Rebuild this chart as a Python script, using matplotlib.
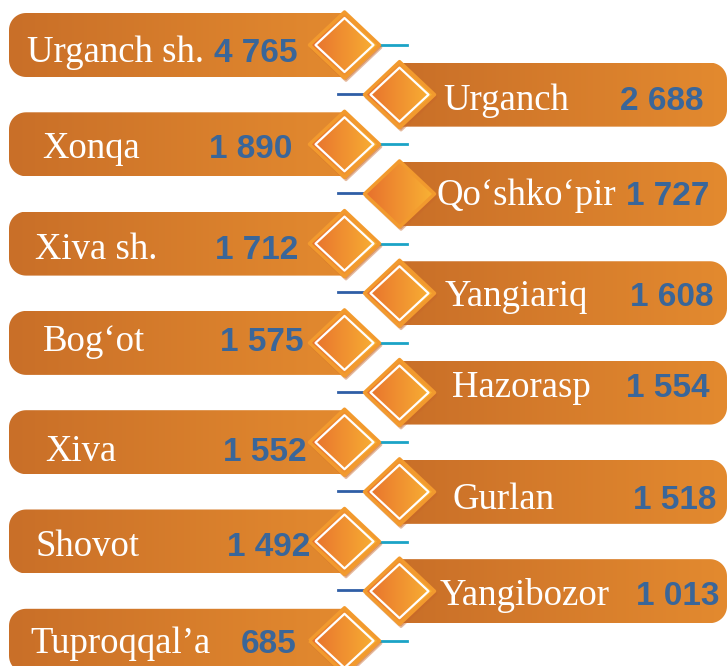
import numpy as np
import matplotlib.pyplot as plt
from matplotlib.colors import LinearSegmentedColormap
from matplotlib.patches import Polygon

# district names (top to bottom, alternating left / right)
districts = ["Urganch sh.", "Urganch", "Xonqa", "Qo‘shko‘pir", "Xiva sh.",
             "Yangiariq", "Bog‘ot", "Hazorasp", "Xiva", "Gurlan", "Shovot",
             "Yangibozor", "Tuproqqal’a"]
values = [4765, 2688, 1890, 1727, 1712, 1608, 1575, 1554, 1552, 1518, 1492,
          1013, 685]

# layout tweaks per row (pixels)
label_x = [27, 443, 42, 436, 35, 445, 43, 452, 45, 452, 35, 440, 30]
number_right = [298, 704, 292, 709, 298, 713, 304, 709, 307, 716, 310, 720, 297]
text_dy = [17, 15, 14, 11, 15, 13, 8, 4, 19, 17, 15, 14, 12]
no_outline = {3}

W, H = 728, 666
fig = plt.figure(figsize=(W / 100, H / 100), dpi=100)
ax = fig.add_axes([0, 0, 1, 1])

bar_cmap = LinearSegmentedColormap.from_list("bar", ["#c96f28", "#e38a2f"])
dia_cmap = LinearSegmentedColormap.from_list("dia", ["#e76f2d", "#f9b434"])
grad = np.linspace(0, 1, 256).reshape(1, -1)
t = np.linspace(0, np.pi / 2, 14)


def bar_verts(x0, x1, yc, h, r, side):
    top, bot = yc - h / 2, yc + h / 2
    if side == "left":
        tl = np.column_stack([x0 + r - r * np.sin(t), top + r - r * np.cos(t)])
        bl = np.column_stack([x0 + r - r * np.cos(t), bot - r + r * np.sin(t)])
        return np.vstack([[[x1, top]], tl, bl, [[x1, bot]]])
    tr = np.column_stack([x1 - r + r * np.sin(t), top + r - r * np.cos(t)])
    br = np.column_stack([x1 - r + r * np.cos(t), bot - r + r * np.sin(t)])
    return np.vstack([[[x0, top]], tr, br, [[x0, bot]]])


def diamond_verts(cx, cy, hw, hh):
    return np.array([[cx - hw, cy], [cx, cy - hh], [cx + hw, cy], [cx, cy + hh]])


def gradient_fill(verts, cmap, zorder):
    poly = Polygon(verts, closed=True, facecolor="none", edgecolor="none",
                   zorder=zorder)
    ax.add_patch(poly)
    xs, ys = verts[:, 0], verts[:, 1]
    im = ax.imshow(grad, cmap=cmap, aspect="auto", interpolation="bilinear",
                   extent=(xs.min(), xs.max(), ys.max(), ys.min()), zorder=zorder)
    im.set_clip_path(poly)


for i, (name, val) in enumerate(zip(districts, values)):
    yc = 45 + 49.65 * i
    z = 2 + i * 0.1
    left = i % 2 == 0
    if left:
        cx = 344.5
        gradient_fill(bar_verts(9, 346, yc, 64, 17, "left"), bar_cmap, z)
        ax.plot([378, 407], [yc, yc], color="#1ba3c6", lw=2, zorder=z)
    else:
        cx = 399.5
        gradient_fill(bar_verts(398, 727, yc, 64, 17, "right"), bar_cmap, z)
        ax.plot([338, 365], [yc - 1, yc - 1], color="#2f5ea6", lw=2, zorder=z)

    # shadow + diamond
    ax.add_patch(Polygon(diamond_verts(cx + 1.5, yc + 2.5, 35, 33), closed=True,
                         facecolor="#c8682a", edgecolor="#c8682a", alpha=0.45,
                         lw=2, joinstyle="round", zorder=z + 0.01))
    dv = diamond_verts(cx, yc, 35, 33)
    gradient_fill(dv, dia_cmap, z + 0.02)
    ax.add_patch(Polygon(dv, closed=True, facecolor="none", edgecolor="#f29a2e",
                         lw=2.5, joinstyle="round", zorder=z + 0.03))
    if i not in no_outline:
        ax.add_patch(Polygon(diamond_verts(cx, yc, 29, 27), closed=True,
                             facecolor="none", edgecolor="white", lw=1.6,
                             joinstyle="round", zorder=z + 0.04))

    ax.text(label_x[i], yc + text_dy[i], name, family="Liberation Serif",
            fontsize=26.5, color="white", ha="left", va="baseline", zorder=z + 0.05)
    ax.text(number_right[i], yc + text_dy[i], f"{val:,}".replace(",", " "),
            family="Liberation Sans", fontweight="bold", fontsize=24,
            color="#3a6699", ha="right", va="baseline", zorder=z + 0.05)

ax.set_xlim(0, W)
ax.set_ylim(H, 0)
ax.axis("off")

fig.savefig("out.png", dpi=100)
